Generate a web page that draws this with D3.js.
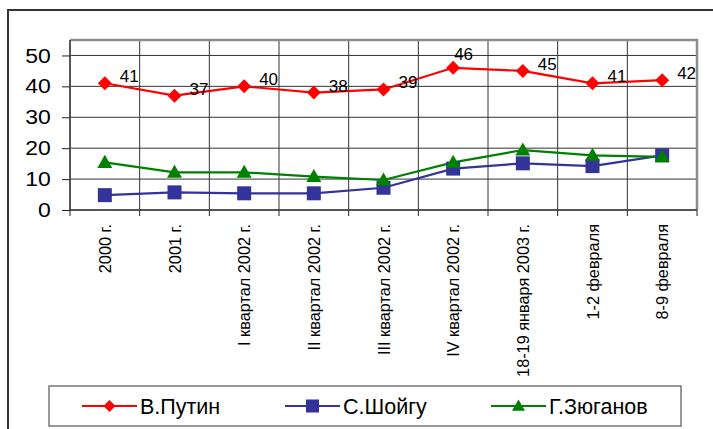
<!DOCTYPE html>
<html>
<head>
<meta charset="utf-8">
<script src="https://cdn.jsdelivr.net/npm/d3@7"></script>
<style>
  html, body { margin: 0; padding: 0; background: #fff; }
  svg { display: block; font-family: "Liberation Sans", Arial, sans-serif; }
</style>
</head>
<body>
<svg id="chart" width="713" height="429"></svg>
<script>
// Poll periods
const categories = [
  "2000 г.", "2001 г.", "I квартал 2002 г.", "II квартал 2002 г.",
  "III квартал 2002 г.", "IV квартал 2002 г.", "18-19 января 2003 г.",
  "1-2 февраля", "8-9 февраля"
];
// Ratings, %
const putin = [41, 37, 40, 38, 39, 46, 45, 41, 42];
const shoigu = [4.8, 5.7, 5.4, 5.4, 7.2, 13.4, 15.1, 14.2, 17.7];
const zyuganov = [15.4, 12.2, 12.2, 10.8, 9.7, 15.4, 19.4, 17.7, 17.2];
const seriesNames = ["В.Путин", "С.Шойгу", "Г.Зюганов"];
const yTicks = [0, 10, 20, 30, 40, 50];

const svg = d3.select("#chart");
const plot = { left: 70, right: 697, top: 40, bottom: 210 };

const x = d3.scaleBand().domain(categories).range([plot.left, plot.right]);
const y = d3.scaleLinear().domain([0, 55]).range([plot.bottom, plot.top]);
const cx = c => x(c) + x.bandwidth() / 2;

// outer chart frame (runs off the right and bottom edges)
svg.append("path")
  .attr("d", "M8,440 L8,10 L720,10")
  .attr("fill", "none").attr("stroke", "#333").attr("stroke-width", 2);

// horizontal gridlines
svg.append("g").selectAll("line").data(yTicks.filter(t => t > 0)).join("line")
  .attr("x1", plot.left).attr("x2", plot.right)
  .attr("y1", d => y(d)).attr("y2", d => y(d))
  .attr("stroke", "#333").attr("stroke-width", 1);

// vertical gridlines at category boundaries
svg.append("g").selectAll("line").data(categories.slice(1)).join("line")
  .attr("x1", d => x(d)).attr("x2", d => x(d))
  .attr("y1", plot.top).attr("y2", plot.bottom)
  .attr("stroke", "#333").attr("stroke-width", 1);

// plot area top/right border
svg.append("path")
  .attr("d", `M${plot.left},${plot.top} L${plot.right},${plot.top} L${plot.right},${plot.bottom}`)
  .attr("fill", "none").attr("stroke", "#8c8c8c").attr("stroke-width", 2.5);

// y axis
const yAxis = svg.append("g").attr("transform", `translate(${plot.left},0)`)
  .call(d3.axisLeft(y).tickValues(yTicks).tickSize(8).tickPadding(10).tickFormat(d3.format("d")));
yAxis.select(".domain").attr("stroke", "#555").attr("stroke-width", 2)
  .attr("d", `M0,${plot.top}V${plot.bottom}`);
yAxis.selectAll(".tick line").attr("stroke", "#222");
yAxis.selectAll(".tick text")
  .attr("font-size", 20.5).attr("fill", "#000")
  .attr("font-family", "Liberation Sans, Arial, sans-serif")
  .attr("transform", "scale(1.12,1)").attr("x", -18 / 1.12 - 1);

// x axis
const xAxis = svg.append("g").attr("transform", `translate(0,${plot.bottom})`)
  .call(d3.axisBottom(x).tickSize(0).tickFormat(""));
xAxis.select(".domain").attr("stroke", "#555").attr("stroke-width", 2)
  .attr("d", `M${plot.left},0H${plot.right}`);
xAxis.append("g").selectAll("line").data(categories.concat(["_end"])).join("line")
  .attr("x1", (d, i) => plot.left + i * x.bandwidth())
  .attr("x2", (d, i) => plot.left + i * x.bandwidth())
  .attr("y1", 0).attr("y2", 6).attr("stroke", "#222");

// rotated category labels
svg.append("g").selectAll("text").data(categories).join("text")
  .attr("transform", d => `translate(${cx(d) + 6},224) rotate(-90)`)
  .attr("text-anchor", "end")
  .attr("font-size", 16.3).attr("fill", "#000")
  .text(d => d);

// markers
function diamondPath(s) {
  const r = s / 2;
  return `M0,${-r}L${r},0L0,${r}L${-r},0Z`;
}
function drawMarker(g, type, color, size) {
  if (type === "diamond") {
    g.append("path").attr("d", diamondPath(size)).attr("fill", color);
  } else if (type === "square") {
    g.append("rect").attr("x", -size / 2).attr("y", -size / 2)
      .attr("width", size).attr("height", size).attr("fill", color);
  } else {
    const w = size, h = size * 0.87;
    g.append("path").attr("d", `M0,${-h * 0.58}L${w / 2},${h * 0.42}L${-w / 2},${h * 0.42}Z`)
      .attr("fill", color);
  }
}

const series = [
  { name: seriesNames[0], values: putin, color: "#ff0000", marker: "diamond", size: 14 },
  { name: seriesNames[1], values: shoigu, color: "#333399", marker: "square", size: 14 },
  { name: seriesNames[2], values: zyuganov, color: "#008000", marker: "triangle", size: 15 }
];

const line = d3.line().x((d, i) => cx(categories[i])).y(d => y(d));

series.forEach(s => {
  svg.append("path").datum(s.values).attr("d", line)
    .attr("fill", "none").attr("stroke", s.color).attr("stroke-width", 2.2);
});
series.forEach(s => {
  s.values.forEach((v, i) => {
    const g = svg.append("g").attr("transform", `translate(${cx(categories[i])},${y(v)})`);
    drawMarker(g, s.marker, s.color, s.size);
  });
});

// value labels for Putin
const peak = d3.maxIndex(putin);
svg.append("g").selectAll("text").data(putin).join("text")
  .attr("x", (d, i) => cx(categories[i]) + (i === peak ? 1 : 15))
  .attr("y", (d, i) => y(d) + (i === peak ? -8 : -1))
  .attr("font-size", 17).attr("fill", "#000")
  .text(d => d);

// legend
const legend = svg.append("g");
legend.append("rect").attr("x", 49).attr("y", 386).attr("width", 632).attr("height", 40)
  .attr("fill", "#fff").attr("stroke", "#777").attr("stroke-width", 1.5);
const legendX = [82, 285, 491];
series.forEach((s, i) => {
  const g = legend.append("g").attr("transform", `translate(${legendX[i]},406)`);
  g.append("line").attr("x1", 0).attr("x2", 55).attr("y1", 0).attr("y2", 0)
    .attr("stroke", s.color).attr("stroke-width", 2.2);
  const m = g.append("g").attr("transform", "translate(27.5,0)");
  drawMarker(m, s.marker, s.color, s.marker === "diamond" ? 12 : 13);
  g.append("text").attr("x", 58).attr("y", 7.5)
    .attr("font-size", 21.5).attr("fill", "#000").text(s.name);
});
</script>
</body>
</html>
